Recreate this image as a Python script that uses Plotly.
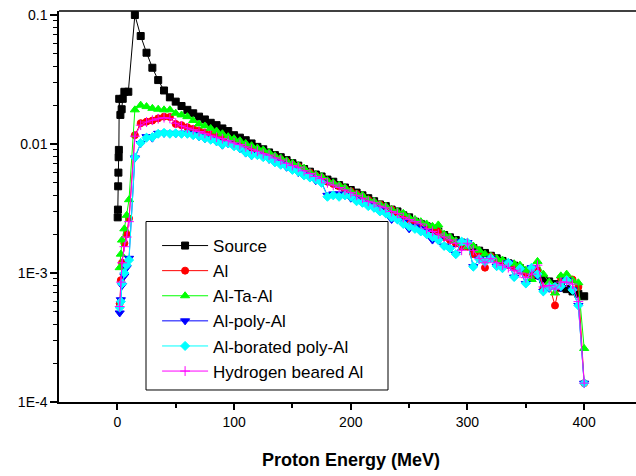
import plotly.graph_objects as go

# ---------------- data ----------------
energy_main = [15, 20, 25, 30, 35, 40, 45, 50, 55, 60, 65, 70, 75, 80, 85, 90, 95, 100, 105, 110,
               115, 120, 125, 130, 135, 140, 145, 150, 155, 160, 165, 170, 175, 180, 185, 190, 195, 200, 205, 210,
               215, 220, 225, 230, 235, 240, 245, 250, 255, 260, 265, 270, 275, 280, 285, 290, 295, 300, 305, 310,
               315, 320, 325, 330, 335, 340, 345, 350, 355, 360, 365, 370, 375, 380, 385, 390, 395, 400]

source_low_e = [0.3, 0.5, 0.7, 0.9, 1.1, 1.3, 1.6, 2.6, 3.7, 4.6, 6, 9.4]
source_low = [0.0027, 0.0031, 0.0047, 0.006, 0.0079, 0.009, 0.0224, 0.0168, 0.0186, 0.0224, 0.0254, 0.0254]
source_main = [0.100, 0.0687, 0.051, 0.039, 0.0313, 0.026, 0.023, 0.0213, 0.0197, 0.0184,
               0.0173, 0.0163, 0.0155, 0.0146, 0.014, 0.0132, 0.0126, 0.0117, 0.0112, 0.0107,
               0.0101, 0.0095, 0.0091, 0.0086, 0.0082, 0.0079, 0.0075, 0.0071, 0.0068, 0.0064,
               0.0061, 0.0058, 0.0056, 0.0053, 0.0051, 0.0048, 0.0046, 0.0044, 0.0042, 0.0040,
               0.0038, 0.0036, 0.0034, 0.0033, 0.0031, 0.0030, 0.0028, 0.0027, 0.0025, 0.0024,
               0.0023, 0.0022, 0.0021, 0.00197, 0.00189, 0.0018, 0.00172, 0.00164, 0.00156, 0.00149,
               0.00143, 0.00136, 0.0013, 0.00124, 0.00119, 0.00114, 0.00109, 0.00104, 0.001, 0.00096,
               0.00089, 0.00086, 0.00082, 0.00077, 0.00075, 0.00072, 0.00069, 0.00066]

low_e = [2, 3, 4, 6, 8, 10]

al_low = [0.00058, 0.00088, 0.0012, 0.0017, 0.002, 0.00265]
al_main = [0.0117, 0.0145, 0.0149, 0.0152, 0.0158, 0.0163, 0.0162, 0.0143, 0.0140, 0.0135,
           0.0131, 0.0127, 0.0122, 0.0118, 0.0114, 0.0111, 0.0108, 0.0104, 0.0100, 0.0096,
           0.0092, 0.0089, 0.0086, 0.0083, 0.0079, 0.0076, 0.0073, 0.0069, 0.0067, 0.0063,
           0.0060, 0.0057, 0.0055, 0.0051, 0.0049, 0.0047, 0.0045, 0.0043, 0.0041, 0.0039,
           0.0037, 0.0035, 0.0034, 0.0032, 0.0031, 0.0029, 0.0028, 0.0026, 0.0025, 0.0024,
           0.0023, 0.0022, 0.0021, 0.0019, 0.0018, 0.0017, 0.0016, 0.0016, 0.0014, 0.0014,
           0.0011, 0.00135, 0.00125, 0.0012, 0.00115, 0.0011, 0.00105, 0.001, 0.00095, 0.00105,
           0.00076, 0.00081, 0.00056, 0.00092, 0.00088, 0.00089, 0.00078, 0.00014]

altaal_low = [0.0011, 0.0014, 0.0018, 0.0022, 0.0028, 0.0037]
altaal_main = [0.0184, 0.020, 0.0195, 0.0189, 0.0186, 0.0184, 0.0184, 0.0173, 0.0168, 0.0163,
               0.0152, 0.0143, 0.0138, 0.0132, 0.0126, 0.0120, 0.0114, 0.0110, 0.0106, 0.0101,
               0.0097, 0.0093, 0.0090, 0.0086, 0.0081, 0.0078, 0.0074, 0.0071, 0.0068, 0.0065,
               0.0060, 0.0058, 0.0056, 0.0052, 0.0050, 0.0048, 0.0046, 0.0043, 0.0041, 0.0040,
               0.0037, 0.0036, 0.0034, 0.0033, 0.0031, 0.0030, 0.0029, 0.0027, 0.0026, 0.0025,
               0.0024, 0.0023, 0.00236, 0.0020, 0.0019, 0.00178, 0.0017, 0.0016, 0.00162, 0.0015,
               0.0014, 0.00135, 0.0013, 0.00126, 0.0012, 0.00118, 0.00115, 0.00105, 0.00089, 0.00123,
               0.00098, 0.00085, 0.0007, 0.00095, 0.00098, 0.00088, 0.00084, 0.00026]

alpoly_low = [0.00049, 0.00062, 0.0008, 0.00095, 0.0011, 0.0013]
alpoly_main = [0.0078, 0.0101, 0.0114, 0.0111, 0.0121, 0.0121, 0.0121, 0.0120, 0.0121, 0.0121,
               0.0118, 0.0114, 0.0110, 0.0109, 0.0104, 0.0098, 0.0100, 0.0097, 0.0092, 0.0085,
               0.0081, 0.0083, 0.0080, 0.0076, 0.0073, 0.0070, 0.0066, 0.0064, 0.0060, 0.0058,
               0.0055, 0.0052, 0.0050, 0.0040, 0.0041, 0.0041, 0.0040, 0.0038, 0.0037, 0.0035,
               0.0034, 0.0032, 0.0031, 0.0029, 0.0026, 0.0026, 0.0025, 0.0022, 0.0023, 0.0022,
               0.0021, 0.0018, 0.0018, 0.00162, 0.00155, 0.0014, 0.00175, 0.00172, 0.00112, 0.00128,
               0.00122, 0.0013, 0.00113, 0.00109, 0.0012, 0.00093, 0.00105, 0.00083, 0.0011, 0.00095,
               0.00072, 0.00076, 0.00078, 0.00077, 0.00088, 0.00074, 0.00056, 0.00014]

alborated_low = [0.00054, 0.0006, 0.00083, 0.001, 0.00115, 0.00126]
alborated_main = [0.0079, 0.0102, 0.0112, 0.0113, 0.0120, 0.0122, 0.0120, 0.0121, 0.0120, 0.0120,
                  0.0117, 0.0115, 0.0111, 0.0108, 0.0105, 0.0099, 0.0101, 0.0096, 0.0093, 0.0086,
                  0.0082, 0.0082, 0.0079, 0.0077, 0.0072, 0.0069, 0.0067, 0.0063, 0.0061, 0.0057,
                  0.0055, 0.0053, 0.0050, 0.0039, 0.0040, 0.0039, 0.0040, 0.0039, 0.0036, 0.0035,
                  0.0033, 0.0032, 0.0030, 0.0029, 0.0027, 0.0026, 0.0024, 0.0023, 0.0022, 0.0021,
                  0.0020, 0.0019, 0.0018, 0.00162, 0.00155, 0.0014, 0.00175, 0.00172, 0.00112, 0.00128,
                  0.00122, 0.0013, 0.00113, 0.00109, 0.0012, 0.00093, 0.00108, 0.00083, 0.0011, 0.00098,
                  0.00072, 0.00078, 0.00078, 0.00079, 0.00088, 0.00074, 0.00056, 0.00014]

hydrogen_low = [0.00055, 0.00085, 0.0012, 0.0016, 0.0019, 0.0025]
hydrogen_main = [0.0115, 0.014, 0.0148, 0.0153, 0.0157, 0.0160, 0.0158, 0.0145, 0.0138, 0.0133,
                 0.0129, 0.0125, 0.0121, 0.0117, 0.0113, 0.0110, 0.0106, 0.0102, 0.0099, 0.0095,
                 0.0091, 0.0088, 0.0084, 0.0082, 0.0078, 0.0075, 0.0071, 0.0068, 0.0066, 0.0062,
                 0.0059, 0.0056, 0.0054, 0.0050, 0.0048, 0.0046, 0.0044, 0.0042, 0.0040, 0.0038,
                 0.0036, 0.0035, 0.0033, 0.0032, 0.0030, 0.0029, 0.0027, 0.0026, 0.0025, 0.0024,
                 0.0022, 0.0021, 0.0020, 0.0019, 0.0018, 0.0017, 0.0015, 0.0017, 0.0015, 0.0013,
                 0.0012, 0.0013, 0.0012, 0.00115, 0.0011, 0.00105, 0.001, 0.00092, 0.00098, 0.00115,
                 0.00078, 0.00080, 0.00075, 0.00085, 0.00085, 0.00082, 0.0006, 0.00014]

series_names = ["Source", "Al", "Al-Ta-Al", "Al-poly-Al", "Al-borated poly-Al", "Hydrogen beared Al"]
x_ticks = [0, 100, 200, 300, 400]
y_ticks = [1e-4, 1e-3, 1e-2, 1e-1]
y_ticktext = ["1E-4", "1E-3", "0.01", "0.1"]

# ---------------- figure ----------------
FONT = "Arial, 'Liberation Sans', sans-serif"
styles = [
    dict(color="#000000", symbol="square", size=7),
    dict(color="#ff0000", symbol="circle", size=7),
    dict(color="#00ff00", symbol="triangle-up", size=8),
    dict(color="#0000ff", symbol="triangle-down", size=8),
    dict(color="#00ffff", symbol="diamond", size=7),
    dict(color="#ff00ff", symbol="cross-thin", size=7),
]
data = [
    (source_low_e + energy_main, source_low + source_main),
    (low_e + energy_main, al_low + al_main),
    (low_e + energy_main, altaal_low + altaal_main),
    (low_e + energy_main, alpoly_low + alpoly_main),
    (low_e + energy_main, alborated_low + alborated_main),
    (low_e + energy_main, hydrogen_low + hydrogen_main),
]

fig = go.Figure()
for name, st, (xs, ys) in zip(series_names, styles, data):
    fig.add_trace(go.Scatter(
        x=xs, y=ys, name=name, mode="lines+markers",
        line=dict(color=st["color"], width=1),
        marker=dict(symbol=st["symbol"], size=st["size"], color=st["color"],
                    line=dict(color=st["color"], width=1)),
    ))

minor_y = [m * 10 ** e for e in (-4, -3, -2) for m in range(2, 10)]

fig.update_layout(
    width=636, height=476,
    margin=dict(l=59, r=0, t=11, b=74),
    paper_bgcolor="white", plot_bgcolor="white",
    font=dict(family=FONT, size=14, color="black"),
    showlegend=True,
    legend=dict(x=0.17, y=0.445, xanchor="left", yanchor="top",
                bgcolor="rgba(0,0,0,0)", borderwidth=0,
                font=dict(family=FONT, size=17, color="black"),
                itemwidth=46, tracegroupgap=0),
    xaxis=dict(range=[-50, 444.4], showline=True, linecolor="black", linewidth=1.5,
               tickvals=x_ticks, ticks="outside", ticklen=6, tickwidth=1.5, tickcolor="black",
               minor=dict(tickvals=[50, 150, 250, 350], ticks="outside", ticklen=4,
                          tickwidth=1.5, tickcolor="black"),
               showgrid=False, zeroline=False,
               tickfont=dict(family=FONT, size=14, color="black")),
    yaxis=dict(type="log", range=[-4, -0.969], showline=True, linecolor="black", linewidth=1.5,
               tickvals=y_ticks, ticktext=y_ticktext, ticks="outside", ticklen=7,
               tickwidth=1.5, tickcolor="black",
               minor=dict(tickvals=minor_y, ticks="outside", ticklen=4, tickwidth=1,
                          tickcolor="black"),
               showgrid=False, zeroline=False,
               tickfont=dict(family=FONT, size=14, color="black")),
    shapes=[
        dict(type="line", xref="paper", yref="paper", x0=0, x1=1, y0=1, y1=1,
             line=dict(color="black", width=1.5)),
        dict(type="rect", xref="paper", yref="paper", x0=0.1508, x1=0.5702, y0=0.0307, y1=0.4616,
             line=dict(color="black", width=1), fillcolor="white", layer="above"),
    ],
    annotations=[
        dict(text="<b>Proton Energy (MeV)</b>", x=200, xref="x", y=-0.148, yref="paper",
             xanchor="center", yanchor="middle", showarrow=False,
             font=dict(family=FONT, size=18, color="black")),
    ],
)

fig.write_html("out.html")
